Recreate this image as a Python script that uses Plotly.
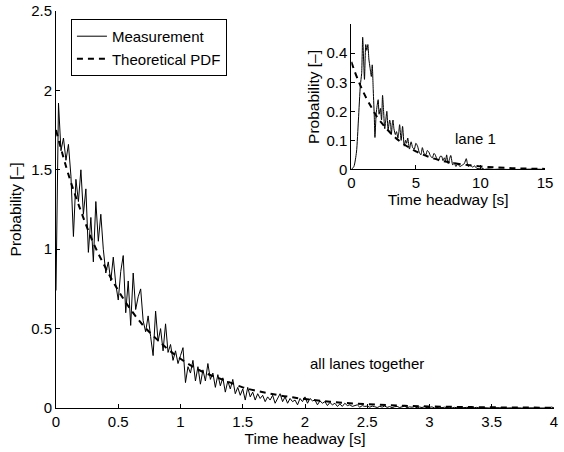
import plotly.graph_objects as go

# ---- all lanes together: measured headway histogram (bin centres, density) ----
meas_x = [round(0.02 * i, 2) for i in range(201)]
meas_y = [
    0.74, 1.92, 1.62, 1.70, 1.56, 1.66, 1.46, 1.08, 1.44, 1.30,
    1.50, 1.22, 1.38, 0.98, 1.20, 0.92, 1.30, 1.05, 1.22, 1.00,
    0.85, 0.92, 0.80, 0.95, 0.78, 0.68, 0.86, 0.96, 0.60, 0.80,
    0.52, 0.85, 0.62, 0.70, 0.75, 0.55, 0.48, 0.58, 0.45, 0.33,
    0.61, 0.42, 0.50, 0.36, 0.53, 0.35, 0.40, 0.30, 0.36, 0.28,
    0.33, 0.38, 0.16, 0.26, 0.22, 0.30, 0.17, 0.26, 0.15, 0.24,
    0.17, 0.28, 0.18, 0.22, 0.13, 0.21, 0.14, 0.19, 0.10, 0.17,
    0.12, 0.18, 0.09, 0.13, 0.08, 0.12, 0.05, 0.13, 0.07, 0.10,
    0.05, 0.09, 0.06, 0.08, 0.04, 0.07, 0.05, 0.08, 0.03, 0.06,
    0.09, 0.04, 0.07, 0.03, 0.06, 0.04, 0.05, 0.02, 0.06, 0.04,
    0.07, 0.03, 0.06, 0.045, 0.05, 0.02, 0.045, 0.03, 0.04, 0.015,
    0.035, 0.02, 0.03, 0.01, 0.025, 0.01, 0.03, 0.015, 0.02, 0.01,
    0.015, 0.02, 0.005, 0.015, 0.01, 0.012, 0.005, 0.012, 0.008, 0.003,
    0.010, 0.006, 0.012, 0.004, 0.009, 0.002, 0.008, 0.010, 0.003, 0.006,
    0.012, 0.002, 0.007, 0.005, 0.009, 0.001, 0.006, 0.003, 0.008, 0.002,
    0.005, 0.007, 0.0, 0.004, 0.006, 0.002, 0.005, 0.003, 0.006, 0.0,
    0.004, 0.002, 0.005, 0.001, 0.003, 0.004, 0.0, 0.003, 0.002, 0.004,
    0.0, 0.003, 0.001, 0.003, 0.0, 0.002, 0.003, 0.0, 0.002, 0.001,
    0.003, 0.0, 0.002, 0.001, 0.0, 0.002, 0.001, 0.0, 0.002, 0.0,
    0.001, 0.002, 0.0, 0.001, 0.0, 0.002, 0.0, 0.001, 0.0, 0.006,
    0.001,
]

# fitted probability density, all lanes
pdf_x = [0.0, 0.1, 0.2, 0.3, 0.4, 0.5, 0.6, 0.7, 0.8, 0.9, 1.0, 1.1, 1.2,
         1.3, 1.4, 1.5, 1.6, 1.7, 1.8, 1.9, 2.0, 2.2, 2.4, 2.6, 2.8, 3.0,
         3.2, 3.4, 3.6, 3.8, 4.0]
pdf_y = [1.75, 1.47, 1.24, 1.04, 0.88, 0.74, 0.62, 0.52, 0.44, 0.37, 0.31,
         0.26, 0.22, 0.19, 0.16, 0.13, 0.11, 0.094, 0.079, 0.067, 0.056,
         0.040, 0.028, 0.020, 0.014, 0.010, 0.007, 0.005, 0.0035, 0.0025,
         0.0018]

# ---- lane 1 ----
lane1_x = [0.0, 0.2, 0.4, 0.55, 0.7, 0.8, 0.88, 0.95, 1.02, 1.12, 1.2, 1.28,
           1.36, 1.45, 1.55, 1.62, 1.7, 1.78, 1.83, 1.92, 2.0, 2.08, 2.15,
           2.25, 2.34, 2.42, 2.5, 2.59, 2.67, 2.75, 2.85, 2.97, 3.05, 3.1,
           3.18, 3.23, 3.3, 3.41, 3.5, 3.61, 3.68, 3.74, 3.86, 3.97, 4.1,
           4.2, 4.28, 4.37, 4.5, 4.63, 4.75, 4.88, 5.0, 5.13, 5.25, 5.39,
           5.5, 5.63, 5.77, 5.88, 6.0, 6.14, 6.28, 6.4, 6.5, 6.63, 6.76,
           6.88, 7.0, 7.1, 7.2, 7.3, 7.38, 7.5, 7.6, 7.7, 7.85, 7.95, 8.1,
           8.25, 8.4, 8.6, 8.75, 8.9, 9.05, 9.2, 9.4, 9.55, 9.7, 9.9, 10.1,
           10.3, 10.6, 11.0, 11.5, 12.0, 13.0, 14.0, 15.0]
lane1_y = [0.0, 0.01, 0.06, 0.17, 0.29, 0.33, 0.455, 0.38, 0.31, 0.43, 0.41,
           0.43, 0.38, 0.35, 0.32, 0.36, 0.27, 0.18, 0.11, 0.19, 0.22, 0.24,
           0.19, 0.21, 0.17, 0.255, 0.20, 0.14, 0.17, 0.20, 0.137, 0.17,
           0.15, 0.12, 0.16, 0.17, 0.14, 0.12, 0.13, 0.108, 0.13, 0.154,
           0.10, 0.148, 0.08, 0.10, 0.09, 0.108, 0.07, 0.095, 0.075, 0.07,
           0.09, 0.08, 0.06, 0.05, 0.075, 0.055, 0.05, 0.065, 0.06, 0.045,
           0.04, 0.055, 0.05, 0.035, 0.03, 0.045, 0.045, 0.03, 0.04, 0.03,
           0.05, 0.02, 0.035, 0.048, 0.015, 0.025, 0.01, 0.02, 0.01, 0.015,
           0.02, 0.037, 0.01, 0.015, 0.008, 0.012, 0.004, 0.002, 0.005, 0.0,
           0.002, 0.0, 0.001, 0.0, 0.0, 0.001, 0.0]

lane1_pdf_x = [0, 0.5, 1, 1.5, 2, 2.5, 3, 3.5, 4, 5, 6, 7, 8, 9, 10, 11, 12,
               13, 14, 15]
lane1_pdf_y = [0.37, 0.31, 0.26, 0.218, 0.18, 0.152, 0.127, 0.106, 0.089,
               0.062, 0.043, 0.030, 0.021, 0.0148, 0.0104, 0.0072, 0.005,
               0.0035, 0.0025, 0.0017]

main_xticks = [0, 0.5, 1, 1.5, 2, 2.5, 3, 3.5, 4]
main_yticks = [0, 0.5, 1, 1.5, 2, 2.5]
inset_xticks = [0, 5, 10, 15]
inset_yticks = [0, 0.1, 0.2, 0.3, 0.4]

FONT = "Liberation Sans, Arial, Helvetica, sans-serif"
DASH = "6px,5px"
TITLE_FONT = dict(family=FONT, size=15.5, color="black")

fig = go.Figure()
fig.add_trace(go.Scatter(x=meas_x, y=meas_y, mode="lines", name="Measurement",
                         line=dict(color="black", width=1)))
fig.add_trace(go.Scatter(x=pdf_x, y=pdf_y, mode="lines", name="Theoretical PDF",
                         line=dict(color="black", width=2, dash=DASH,
                                   shape="spline")))
fig.add_trace(go.Scatter(x=lane1_x, y=lane1_y, mode="lines", showlegend=False,
                         xaxis="x2", yaxis="y2",
                         line=dict(color="black", width=1, shape="spline",
                                   smoothing=0.6)))
fig.add_trace(go.Scatter(x=lane1_pdf_x, y=lane1_pdf_y, mode="lines",
                         showlegend=False, xaxis="x2", yaxis="y2",
                         line=dict(color="black", width=2, dash=DASH,
                                   shape="spline")))

axis_common = dict(showline=True, linecolor="black", linewidth=1,
                   ticks="inside", ticklen=4, tickcolor="black",
                   showgrid=False, zeroline=False, mirror=False,
                   tickfont=dict(size=15, color="black"))

fig.update_layout(
    width=564, height=452,
    margin=dict(l=56, r=2, t=9, b=44),
    paper_bgcolor="white", plot_bgcolor="white",
    font=dict(family=FONT, size=15, color="black"),
    showlegend=True,
    legend=dict(x=0.03, y=0.98, xanchor="left", yanchor="top",
                bordercolor="black", borderwidth=1, bgcolor="white",
                font=dict(size=15), itemwidth=30, tracegroupgap=0),
    xaxis=dict(range=[0, 4], tickvals=main_xticks,
               ticktext=[f"{v:g}" for v in main_xticks],
               title=dict(text="Time headway [s]", standoff=3,
                          font=TITLE_FONT),
               **axis_common),
    yaxis=dict(range=[0, 2.5], tickvals=main_yticks,
               ticktext=[f"{v:g}" for v in main_yticks],
               title=dict(text="Probability [–]", standoff=5,
                          font=TITLE_FONT),
               **axis_common),
    xaxis2=dict(domain=[0.593, 0.982], anchor="y2", range=[0, 15],
                tickvals=inset_xticks,
                ticktext=[f"{v:g}" for v in inset_xticks],
                title=dict(text="Time headway [s]", standoff=3,
                           font=TITLE_FONT),
                **axis_common),
    yaxis2=dict(domain=[0.601, 0.966], anchor="x2", range=[0, 0.499],
                tickvals=inset_yticks,
                ticktext=[f"{v:g}" for v in inset_yticks],
                title=dict(text="Probability [–]", standoff=3,
                           font=TITLE_FONT),
                **axis_common),
    annotations=[
        dict(text="lane 1", x=9.6, y=0.107, xref="x2", yref="y2",
             showarrow=False, font=dict(size=15)),
        dict(text="all lanes together", x=2.5, y=0.28, xref="x", yref="y",
             showarrow=False, font=dict(size=15)),
    ],
)

fig.write_html("out.html")
